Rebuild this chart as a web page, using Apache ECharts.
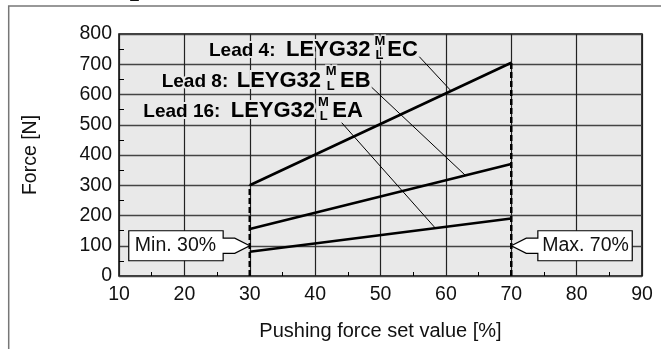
<!DOCTYPE html>
<html><head><meta charset="utf-8">
<script src="https://cdn.jsdelivr.net/npm/echarts@6/dist/echarts.min.js"></script>
<style>html,body{margin:0;padding:0;background:#fff}#c{width:661px;height:349px}</style>
</head><body><div id="c"></div>
<script>
// ---- data ----
const xValues = [30, 70];           // pushing force set value [%]
const lead4 = [300, 705];           // LEYG32 EC
const lead8 = [155, 370];           // LEYG32 EB
const lead16 = [80, 190];           // LEYG32 EA
const xAxisRange = [10, 90, 10];    // min, max, interval
const yAxisRange = [0, 800, 100];
const minSetting = 30, maxSetting = 70, calloutForce = 100;
const minLabel = 'Min. 30%', maxLabel = 'Max. 70%';
const leadNames = ['Lead 4:', 'Lead 8:', 'Lead 16:'];
const modelSuffix = ['EC', 'EB', 'EA'];
const leaderX = [60.8, 63.0, 58.4]; // where the pointer lines meet each curve

const FONT = "'Liberation Sans', Arial, Helvetica, sans-serif";
const chart = echarts.init(document.getElementById('c'), null, {renderer: 'canvas'});

function pts(xs, ys) { return xs.map((x, i) => [x, ys[i]]); }
const lineStyle = {color: '#000', width: 2.6};
const dashStyle = {color: '#000', width: 2.5, type: [6, 3]};

chart.setOption({
  animation: false,
  grid: {left: 119, right: 19, top: 34, bottom: 73, show: true, backgroundColor: '#e9e9e9',
         borderColor: '#000', borderWidth: 1.5, containLabel: false, outerBoundsMode: 'none'},
  xAxis: {
    type: 'value', min: xAxisRange[0], max: xAxisRange[1], interval: xAxisRange[2],
    name: 'Pushing force set value [%]', nameLocation: 'middle', nameGap: 45,
    nameTextStyle: {fontFamily: FONT, fontSize: 20, color: '#111'},
    axisLine: {show: false},
    axisTick: {show: false, inside: true},
    minorTick: {show: true, splitNumber: 2, length: 4, lineStyle: {color: '#000', width: 1}},
    splitLine: {show: true, lineStyle: {color: '#222', width: 1.2}},
    axisLabel: {fontFamily: FONT, fontSize: 19.5, color: '#111', margin: 9}
  },
  yAxis: {
    type: 'value', min: yAxisRange[0], max: yAxisRange[1], interval: yAxisRange[2],
    name: 'Force [N]', nameLocation: 'middle', nameGap: 78, nameRotate: 90,
    nameTextStyle: {fontFamily: FONT, fontSize: 19.5, color: '#111'},
    axisLine: {show: false},
    axisTick: {show: false, inside: true},
    minorTick: {show: true, splitNumber: 2, length: 5, lineStyle: {color: '#000', width: 1}},
    splitLine: {show: true, lineStyle: {color: '#444', width: 1.4}},
    axisLabel: {fontFamily: FONT, fontSize: 19.5, color: '#111', margin: 7}
  },
  series: [
    {type: 'line', data: pts(xValues, lead4), symbol: 'none', lineStyle, z: 5},
    {type: 'line', data: pts(xValues, lead8), symbol: 'none', lineStyle, z: 5},
    {type: 'line', data: pts(xValues, lead16), symbol: 'none', lineStyle, z: 5},
    {type: 'line', data: [[minSetting, 0], [minSetting, lead4[0]]], symbol: 'none', lineStyle: dashStyle, z: 4},
    {type: 'line', data: [[maxSetting, 0], [maxSetting, lead4[1]]], symbol: 'none', lineStyle: dashStyle, z: 4}
  ]
});

function interp(ys, x) {
  return ys[0] + (ys[1] - ys[0]) * (x - xValues[0]) / (xValues[1] - xValues[0]);
}
const P = (x, y) => chart.convertToPixel({gridIndex: 0}, [x, y]);

const g = [];
// outer frame fragment
g.push({type: 'polyline', shape: {points: [[8.7, 349], [8.7, 6], [661, 6]]},
        style: {stroke: '#777', lineWidth: 1.5, fill: null}, z: 1});
g.push({type: 'text', x: 129, y: -3.5, style: {text: 'L', font: 'bold 17px ' + FONT, fill: '#111',
        verticalAlign: 'middle'}, z: 1});

function txt(s, x, baseline, size, bold) {
  g.push({type: 'text', x: x, y: baseline - 0.35 * size, z: 20,
    style: {text: s, font: (bold ? 'bold ' : '') + size + 'px ' + FONT, fill: '#000',
            verticalAlign: 'middle', align: 'left', stroke: '#e9e9e9', lineWidth: 4}});
}
// labels: [leadX, modelX, mX, lX, suffixX, baseline, leaderStartX, leaderStartY]
const labelLayout = [
  [209, 286, 374.5, 375.5, 387.3, 57.5, 419.3, 56.7],
  [161.7, 236.7, 325.7, 326.7, 340, 88.3, 371.7, 87.3],
  [143.3, 230.7, 318, 319.7, 332.3, 118.5, 341.7, 122.7]
];
const series = [lead4, lead8, lead16];
labelLayout.forEach((L, i) => {
  const end = P(leaderX[i], interp(series[i], leaderX[i]));
  g.push({type: 'line', shape: {x1: L[6], y1: L[7], x2: end[0], y2: end[1]},
          style: {stroke: '#000', lineWidth: 1}, z: 15});
  txt(leadNames[i], L[0], L[5], 19, true);
  txt('LEYG32', L[1], L[5], 22, true);
  g.push({type: 'text', x: L[2], y: L[5] - 16.5, z: 21, style: {text: 'M', font: 'bold 13px ' + FONT,
          fill: '#000', verticalAlign: 'middle', stroke: '#e9e9e9', lineWidth: 3}});
  g.push({type: 'text', x: L[3], y: L[5] - 2.3, z: 21, style: {text: 'L', font: 'bold 13px ' + FONT,
          fill: '#000', verticalAlign: 'middle', stroke: '#e9e9e9', lineWidth: 3}});
  txt(modelSuffix[i], L[4], L[5], 22, true);
});

// callouts
const tMin = P(minSetting, calloutForce);
const tMax = P(maxSetting, calloutForce);
function callout(tip, dir, label) {
  const n1 = 15, n2 = 26.6, bw = 94.4, h = 15, a = 7.6;
  const sx = (d) => tip[0] + dir * d;
  const ptsArr = [
    [tip[0], tip[1]], [sx(n1), tip[1] - a], [sx(n2), tip[1] - a], [sx(n2), tip[1] - h],
    [sx(n2 + bw), tip[1] - h], [sx(n2 + bw), tip[1] + h], [sx(n2), tip[1] + h],
    [sx(n2), tip[1] + a], [sx(n1), tip[1] + a]
  ];
  g.push({type: 'polygon', shape: {points: ptsArr}, style: {fill: '#fff', stroke: '#000', lineWidth: 1.2}, z: 30});
  g.push({type: 'text', x: sx(n2 + bw / 2) + dir * 0.5, y: tip[1], z: 31,
          style: {text: label, font: '19.5px ' + FONT, fill: '#111', align: 'center', verticalAlign: 'middle'}});
}
callout(tMin, -1, minLabel);
callout(tMax, 1, maxLabel);

chart.setOption({graphic: {elements: g}});
</script></body></html>
